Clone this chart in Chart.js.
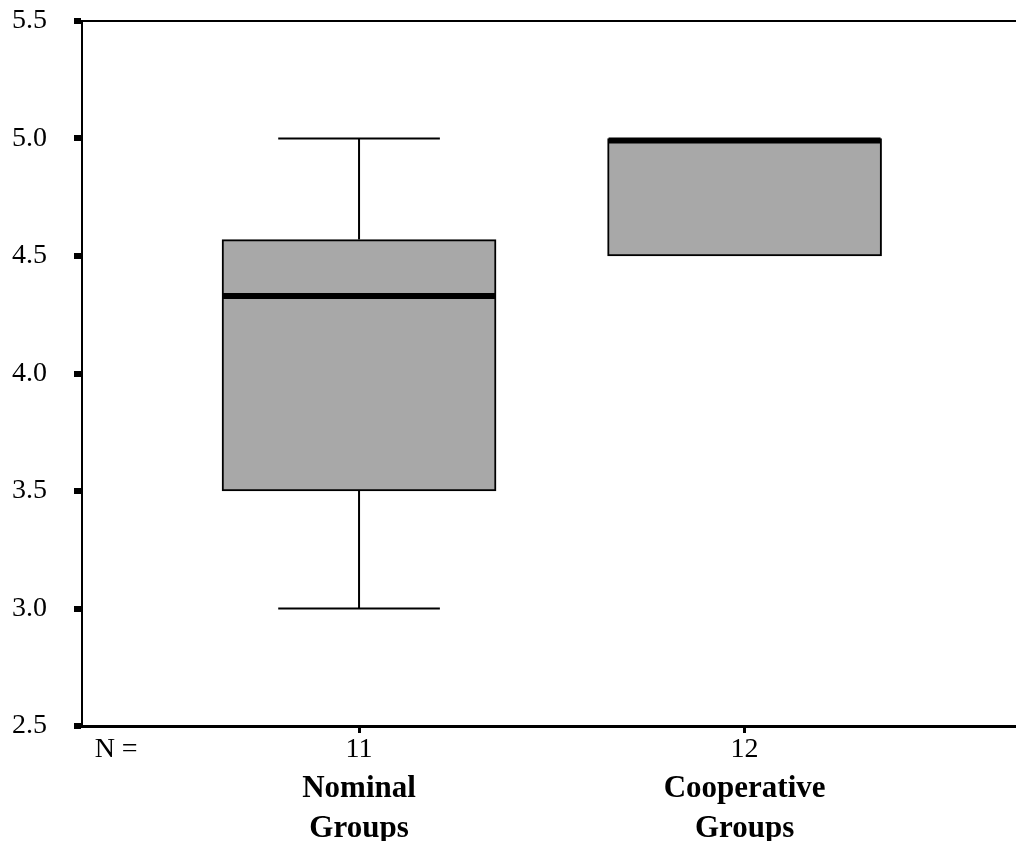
<!DOCTYPE html>
<html>
<head>
<meta charset="utf-8">
<script src="https://cdn.jsdelivr.net/npm/chart.js@4.4.1/dist/chart.umd.min.js"></script>
<style>
  html, body { margin: 0; padding: 0; background: #fff; }
  #wrap { width: 1016px; height: 858px; }
</style>
</head>
<body>
<div id="wrap"><canvas id="box"></canvas></div>
<script>
// group data
const groupNames = [['Nominal', 'Groups'], ['Cooperative', 'Groups']];
const nCounts = [11, 12];
const minVals = [3.0, 4.5];
const q1Vals = [3.5, 4.5];
const medianVals = [4.33, 5.0];
const q3Vals = [4.57, 5.0];
const maxVals = [5.0, 5.0];
const groupPos = [1, 2];
const nLabelPos = 0.37;
const yTicks = [2.5, 3.0, 3.5, 4.0, 4.5, 5.0, 5.5];

const serif = "'Liberation Serif', 'Times New Roman', serif";
Chart.defaults.font.family = serif;
Chart.defaults.font.size = 28;
Chart.defaults.color = '#000';

// whiskers and median lines, placed with the chart's own scales
const boxExtras = {
  id: 'boxExtras',
  afterDatasetsDraw(chart) {
    const ctx = chart.ctx;
    const y = chart.scales.y;
    const meta = chart.getDatasetMeta(0);
    ctx.save();
    ctx.strokeStyle = '#000';
    meta.data.forEach((bar, i) => {
      const half = bar.width / 2;
      const cap = bar.width * 0.295;
      ctx.lineWidth = 2;
      ctx.beginPath();
      if (maxVals[i] > q3Vals[i]) {
        ctx.moveTo(bar.x, y.getPixelForValue(q3Vals[i]));
        ctx.lineTo(bar.x, y.getPixelForValue(maxVals[i]));
        ctx.moveTo(bar.x - cap, y.getPixelForValue(maxVals[i]));
        ctx.lineTo(bar.x + cap, y.getPixelForValue(maxVals[i]));
      }
      if (minVals[i] < q1Vals[i]) {
        ctx.moveTo(bar.x, y.getPixelForValue(q1Vals[i]));
        ctx.lineTo(bar.x, y.getPixelForValue(minVals[i]));
        ctx.moveTo(bar.x - cap, y.getPixelForValue(minVals[i]));
        ctx.lineTo(bar.x + cap, y.getPixelForValue(minVals[i]));
      }
      ctx.stroke();
      // median
      let my = y.getPixelForValue(medianVals[i]);
      if (medianVals[i] >= q3Vals[i]) my += 2;
      ctx.lineWidth = 6;
      ctx.beginPath();
      ctx.moveTo(bar.x - half + 1, my);
      ctx.lineTo(bar.x + half - 1, my);
      ctx.stroke();
    });
    ctx.restore();
  }
};

new Chart(document.getElementById('box'), {
  type: 'bar',
  data: {
    datasets: [{
      data: groupPos.map((p, i) => ({x: p, y: [q1Vals[i], q3Vals[i]]})),
      backgroundColor: '#a8a8a8',
      borderColor: '#000',
      borderWidth: 2,
      borderSkipped: false,
      barThickness: 274
    }]
  },
  options: {
    responsive: true,
    maintainAspectRatio: false,
    animation: false,
    layout: { padding: { top: 0, left: 0, right: 0, bottom: 17 } },
    plugins: { legend: { display: false }, tooltip: { enabled: false } },
    scales: {
      x: {
        type: 'linear',
        position: 'bottom',
        offset: false,
        min: 0.2814,
        max: 2.704,
        afterBuildTicks: axis => { axis.ticks = [nLabelPos].concat(groupPos).map(v => ({value: v})); },
        afterFit: axis => { axis.height = 35; },
        ticks: {
          autoSkip: false,
          maxRotation: 0,
          padding: 0,
          callback: v => v < 0.9 ? 'N =' : String(nCounts[Math.round(v) - 1])
        },
        grid: {
          offset: false,
          drawOnChartArea: false,
          tickLength: 7,
          tickWidth: 3,
          tickColor: c => (c.tick && c.tick.value < 0.9) ? 'rgba(0,0,0,0)' : '#000'
        },
        border: { color: '#000', width: 3 }
      },
      x2: {
        type: 'linear',
        position: 'bottom',
        offset: false,
        min: 0.2814,
        max: 2.704,
        afterBuildTicks: axis => { axis.ticks = groupPos.map(v => ({value: v})); },
        afterFit: axis => { axis.height = 80; },
        ticks: {
          autoSkip: false,
          maxRotation: 0,
          padding: 0,
          font: { weight: 'bold', size: 31, lineHeight: 1.29 },
          callback: v => groupNames[Math.round(v) - 1]
        },
        grid: { display: false, offset: false },
        border: { display: false }
      },
      y: {
        min: 2.5,
        max: 5.5,
        afterBuildTicks: axis => { axis.ticks = yTicks.map(v => ({value: v})); },
        afterFit: axis => { axis.width = 82; axis.paddingTop = 21; },
        ticks: {
          padding: 27,
          callback: v => v.toFixed(1)
        },
        grid: {
          color: c => (c.tick && c.tick.value === 5.5) ? '#000' : 'rgba(0,0,0,0)',
          lineWidth: 2,
          tickLength: 8,
          tickWidth: 6,
          tickColor: '#000'
        },
        border: { color: '#000', width: 2 }
      }
    }
  },
  plugins: [boxExtras]
});
</script>
</body>
</html>
